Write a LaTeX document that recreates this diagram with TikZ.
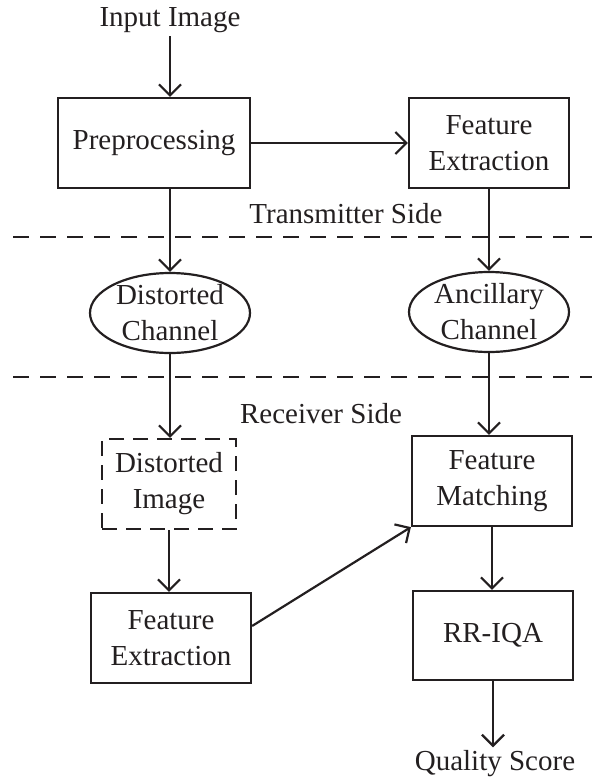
\documentclass[tikz,border=0pt]{standalone}
\usepackage{fontspec}
\setmainfont{Liberation Serif}
\usetikzlibrary{arrows.meta,shapes.geometric,calc}
\definecolor{ink}{HTML}{231F20}
\begin{document}
\begin{tikzpicture}[x=1pt,y=-1pt,
  every node/.style={font=\fontsize{29}{36}\selectfont, text=ink, align=center},
  box/.style={draw=ink, line width=2.2pt, inner sep=0pt, rectangle},
  ell/.style={draw=ink, line width=2.2pt, inner sep=0pt, ellipse, minimum width=160pt, minimum height=80pt},
  dbox/.style={box, dash pattern=on 15pt off 9pt},
  arr/.style={draw=ink, line width=2.2pt, -{Straight Barb[length=11pt,width=22pt]}},
  sep/.style={draw=ink, line width=2.2pt, dash pattern=on 16pt off 11pt}]
\useasboundingbox (0,0) rectangle (592,784);

\node (in) at (170,20) {Input Image};
\node[box, minimum width=192pt, minimum height=90pt] (pre) at (154,143) {Preprocessing};
\node[box, minimum width=160pt, minimum height=90pt] (fe1) at (489,143) {Feature\\Extraction};
\node (tx) at (346,214) {Transmitter Side};
\coordinate (l1a) at (13,237);
\coordinate (l1b) at (592,237);
\node[ell] (dc) at (170,313) {Distorted\\Channel};
\node[ell] (ac) at (489,312) {Ancillary\\Channel};
\coordinate (l2a) at (13,377);
\coordinate (l2b) at (592,377);
\node (rx) at (321,414) {Receiver Side};
\node[dbox, minimum width=134pt, minimum height=90pt] (di) at (169,484) {Distorted\\Image};
\node[box, minimum width=160pt, minimum height=90pt] (fe2) at (171,638) {Feature\\Extraction};
\node[box, minimum width=160pt, minimum height=90pt] (fm) at (492,481) {Feature\\Matching};
\node[box, minimum width=160pt, minimum height=89pt] (rr) at (493,635.5) {RR-IQA};
\node (qs) at (495,764) {Quality Score};

\draw[sep] (l1a) -- (l1b);
\draw[sep] (l2a) -- (l2b);

\draw[arr] (in.south) -- (in.south |- pre.north);
\draw[arr] (pre.east) -- (fe1.west);
\draw[arr] (dc.north |- pre.south) -- (dc.north);
\draw[arr] (fe1.south) -- (fe1.south |- ac.north);
\draw[arr] (dc.south) -- (dc.south |- di.north);
\draw[arr] (ac.south) -- (ac.south |- fm.north);
\draw[arr] (di.south) -- (di.south |- fe2.north);
\draw[arr] ($(fe2.east)+(0,-12)$) -- (fm.south west);
\draw[arr] (fm.south) -- (fm.south |- rr.north);
\draw[arr] (rr.south) -- (rr.south |- qs.north);
\end{tikzpicture}
\end{document}
